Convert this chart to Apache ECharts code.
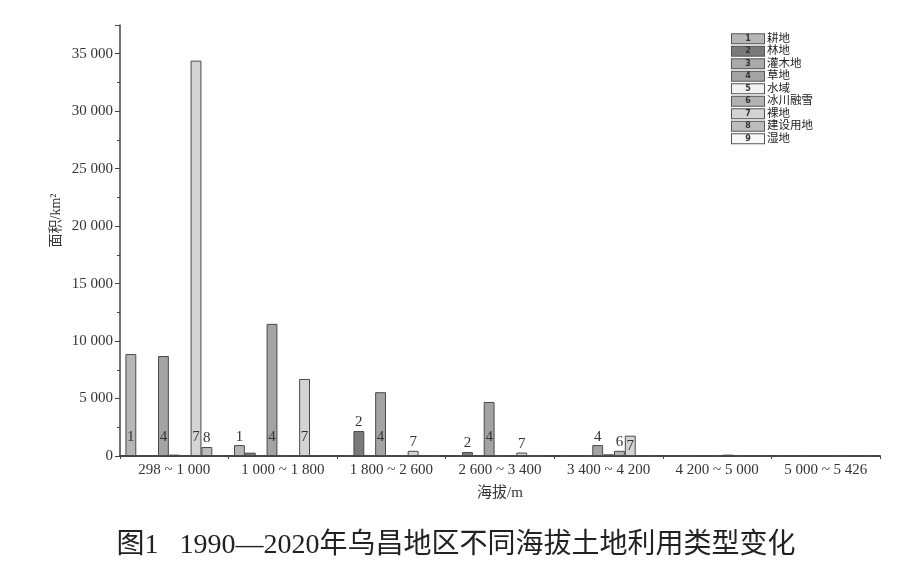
<!DOCTYPE html>
<html><head><meta charset="utf-8">
<script src="https://cdn.jsdelivr.net/npm/echarts@6/dist/echarts.min.js"></script>
<style>html,body{margin:0;padding:0;background:#fff}#c{width:912px;height:578px}</style>
</head><body><div id="c"></div>
<script>
const categories = ['298 ~ 1 000','1 000 ~ 1 800','1 800 ~ 2 600','2 600 ~ 3 400','3 400 ~ 4 200','4 200 ~ 5 000','5 000 ~ 5 426'];
const typeNames = ['耕地','林地','灌木地','草地','水域','冰川融雪','裸地','建设用地','湿地'];
const cropland   = [8870, 950, 0, 0, 0, 0, 0];
const forest     = [0, 290, 2170, 350, 0, 0, 0];
const shrub      = [0, 0, 0, 0, 0, 0, 0];
const grass      = [8700, 11500, 5550, 4700, 950, 0, 0];
const water      = [120, 0, 0, 0, 150, 0, 0];
const glacier    = [0, 0, 0, 0, 450, 120, 0];
const bare       = [34400, 6700, 450, 300, 1770, 0, 0];
const builtUp    = [780, 60, 0, 0, 0, 0, 0];
const wetland    = [0, 0, 0, 0, 0, 0, 0];
const labelledTypes = [[1,4,7,8],[1,4,7],[2,4,7],[2,4,7],[4,6,7],[],[]];
const yTicks = [0, 5000, 10000, 15000, 20000, 25000, 30000, 35000];

const seriesValues = [cropland, forest, shrub, grass, water, glacier, bare, builtUp, wetland];
const colors = ['#b6b6b6','#7a7a7a','#a9a9a9','#a3a3a3','#f2f2f2','#b3b3b3','#d4d4d4','#bdbdbd','#f8f8f8'];
const serif = "'Liberation Serif','Noto Sans CJK SC'";

function fmt(v){ return String(v).replace(/\B(?=(\d{3})+(?!\d))/g,' '); }

const series = seriesValues.map((vals, si) => ({
  name: typeNames[si],
  type: 'bar',
  barGap: '0%',
  barCategoryGap: '10%',
  itemStyle: {color: colors[si], borderColor: '#4a4a4a', borderWidth: 1},
  data: vals.map((v, ci) => {
    const show = labelledTypes[ci].indexOf(si + 1) >= 0;
    let pos = 'top', dist = 1;
    if (v >= 4000) { pos = 'insideBottom'; dist = 11; }
    else if (v > 1000 && v < 2000) { pos = 'inside'; dist = 0; }
    return {value: v, label: {show: show, position: pos, distance: dist, formatter: String(si + 1),
      fontFamily: serif, fontSize: 15, color: '#333'}};
  })
}));

const rich = {t: {fontFamily: serif, fontSize: 11.5, color: '#222', padding: [0,0,0,3], lineHeight: 12}};
colors.forEach((c, i) => {
  rich['c' + i] = {width: 32, height: 9, align: 'center', backgroundColor: c, borderColor: '#555', borderWidth: 1,
    fontSize: 8, fontWeight: 'bold', color: '#333', fontFamily: 'DejaVu Sans', lineHeight: 12};
});

const chart = echarts.init(document.getElementById('c'));
chart.setOption({
  backgroundColor: '#fff',
  animation: false,
  title: {
    text: '图1   1990—2020年乌昌地区不同海拔土地利用类型变化',
    left: 'center', top: 527,
    textStyle: {fontFamily: serif, fontSize: 28, fontWeight: 'normal', color: '#222'}
  },
  legend: {
    orient: 'vertical', left: 720, top: 28, itemGap: 1,
    itemWidth: 1, itemHeight: 1, itemStyle: {opacity: 0},
    data: typeNames,
    formatter: name => { const i = typeNames.indexOf(name); return '{c' + i + '|' + (i + 1) + '}{t|' + name + '}'; },
    textStyle: {rich: rich}
  },
  grid: {left: 120, right: 32, top: 25, bottom: 122},
  xAxis: {
    type: 'category', data: categories,
    name: '海拔/m', nameLocation: 'middle', nameGap: 30, nameMoveOverlap: false,
    nameTextStyle: {fontFamily: serif, fontSize: 15, color: '#333'},
    axisLine: {lineStyle: {color: '#444', width: 2}},
    axisTick: {show: true, length: 3, lineStyle: {color: '#444'}},
    axisLabel: {fontFamily: serif, fontSize: 15, color: '#333', margin: 7}
  },
  yAxis: {
    type: 'value', min: 0, max: 37500, interval: 5000,
    name: '面积/km²', nameLocation: 'middle', nameGap: 57, nameMoveOverlap: false,
    nameTextStyle: {fontFamily: serif, fontSize: 14, color: '#333', padding: [0, 0, 0, 40]},
    axisLine: {show: true, lineStyle: {color: '#444', width: 1.5}},
    axisTick: {show: true, length: 5, lineStyle: {color: '#444'}},
    minorTick: {show: true, splitNumber: 2, length: 3, lineStyle: {color: '#444'}},
    splitLine: {show: false},
    axisLabel: {fontFamily: serif, fontSize: 15, color: '#333', margin: 7, showMaxLabel: false,
      formatter: v => yTicks.indexOf(v) >= 0 ? fmt(v) : ''}
  },
  series: series
});
</script></body></html>
